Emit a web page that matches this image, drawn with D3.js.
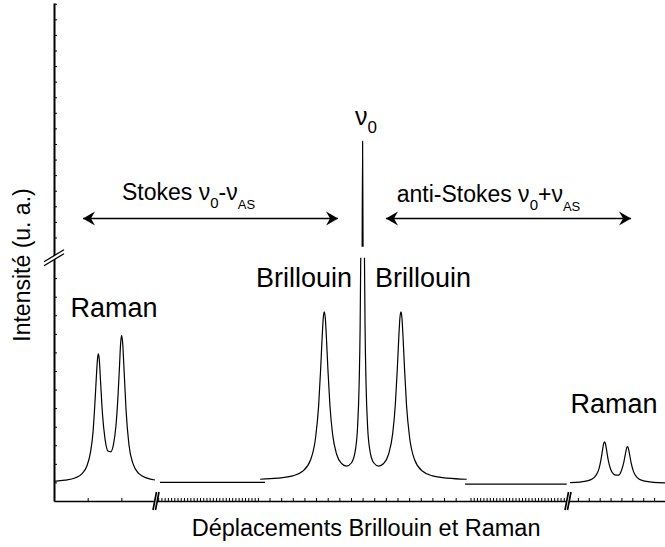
<!DOCTYPE html>
<html>
<head>
<meta charset="utf-8">
<script src="https://cdn.jsdelivr.net/npm/d3@7"></script>
<style>
  body { margin: 0; background: #fff; }
  svg { display: block; font-family: "Liberation Sans", Arial, sans-serif; }
</style>
</head>
<body>
<div class="chart"></div>
<script>
// spectre : [décalage (u. arb.), intensité (u. a.)]
const ramanStokes = [[-50,1.06],[-49.02,1.12],[-48.13,1.24],[-47.50,1.47],[-47.06,1.90],[-46.75,2.62],[-46.52,3.72],
  [-46.35,5.31],[-46.21,6.85],[-46.12,7.67],[-46.05,7.92],[-45.97,7.65],[-45.86,6.53],[-45.68,4.68],[-45.45,3.32],
  [-45.19,2.69],[-44.95,2.65],[-44.70,3.05],[-44.48,4.05],[-44.30,5.62],[-44.16,7.30],[-44.06,8.52],[-43.97,8.92],
  [-43.88,8.49],[-43.76,7.10],[-43.58,4.90],[-43.32,3.02],[-42.96,2.01],[-42.43,1.47],[-41.71,1.23],[-41.00,1.13]];

const fondStokes = [[-39.45,1.0],[-8.39,1.0]];

// null = coupure de l'axe des intensités
const brillouin = [[-8.81,1.17],[-7.31,1.23],[-6.02,1.35],[-5.16,1.60],[-4.47,2.22],[-4.04,3.42],[-3.78,5.12],
  [-3.61,7.05],[-3.48,8.78],[-3.38,9.87],[-3.30,10.19],[-3.21,9.88],[-3.11,8.79],[-2.98,7.07],[-2.81,5.16],
  [-2.58,3.60],[-2.24,2.53],[-1.81,2.02],[-1.38,1.88],[-0.95,2.06],[-0.60,2.82],[-0.43,4.01],[-0.30,6.23],
  [-0.21,9.48],[-0.16,13.1],[-0.1,null],[-0.04,21.4],[0,28.17],[0.04,21.4],[0.1,null],[0.16,13.1],[0.21,9.48],
  [0.30,6.23],[0.43,4.01],[0.60,2.82],[0.95,2.06],[1.38,1.88],[1.81,2.02],[2.24,2.53],[2.58,3.60],[2.81,5.16],
  [2.98,7.07],[3.11,8.79],[3.21,9.88],[3.30,10.19],[3.38,9.87],[3.48,8.78],[3.61,7.05],[3.78,5.12],[4.04,3.42],
  [4.47,2.22],[5.16,1.60],[6.02,1.35],[7.31,1.23],[8.95,1.17]];

const fondAntiStokes = [[8.80,0.91],[39.91,0.91]];

const ramanAntiStokes = [[40.28,0.99],[41.19,1.02],[41.84,1.08],[42.30,1.18],[42.66,1.38],[42.94,1.74],[43.12,2.23],
  [43.28,2.81],[43.37,3.10],[43.44,3.19],[43.52,3.11],[43.61,2.83],[43.77,2.26],[44.00,1.72],[44.27,1.45],
  [44.50,1.39],[44.73,1.39],[45.01,1.66],[45.23,2.12],[45.39,2.62],[45.48,2.86],[45.56,2.93],[45.63,2.85],
  [45.72,2.60],[45.88,2.08],[46.11,1.58],[46.43,1.27],[46.89,1.11],[47.62,1.03],[48.36,0.99],[49.00,0.98]];

const spectre = [ramanStokes, fondStokes, brillouin, fondAntiStokes, ramanAntiStokes];

// axes coupés
const xDomain = [-50, -41, -9, 9, 40, 49];
const yDomain = [0, 13.1, 20.7, 37.05];
const xBreaks = [-41, 40];
const yBreak = 13.1;
const xTicks = [-47, -44].concat(d3.range(-40, -8), d3.range(-8, 9), d3.range(10, 40), d3.range(41, 49));
const yTicks = d3.range(1, 13).concat(d3.range(22, 38));

const margin = ({top: 3, right: 0, bottom: 46, left: 54});
const width = 665 - margin.left - margin.right,
      height = 547 - margin.top - margin.bottom;

const svg = d3.select(".chart")
  .append("svg")
  .attr("width", width + margin.left + margin.right)
  .attr("height", height + margin.top + margin.bottom)
  .append("g")
  .attr("transform", `translate(${margin.left},${margin.top})`);

const x = d3.scaleLinear()
  .domain(xDomain)
  .range([0, 101, 203.9, 413.3, 513, width]);

const y = d3.scaleLinear()
  .domain(yDomain)
  .range([height, 254.7, 254.7, 0]);

const xAxis = d3.axisTop(x)
  .tickValues(xTicks)
  .tickSize(3)
  .tickSizeOuter(0)
  .tickFormat("");

const yAxis = d3.axisRight(y)
  .tickValues(yTicks)
  .tickSize(3)
  .tickSizeOuter(0)
  .tickFormat("");

svg.append("g")
  .attr("class", "axis x-axis")
  .attr("transform", `translate(0,${height})`)
  .call(xAxis)
  .call(g => g.select(".domain").attr("stroke-width", 1.7))
  .call(g => g.selectAll(".tick line").attr("stroke-width", 1));

svg.append("g")
  .attr("class", "axis y-axis")
  .call(yAxis)
  .call(g => g.select(".domain").attr("stroke-width", 2))
  .call(g => g.selectAll(".tick line").attr("stroke-width", 1));

const line = d3.line()
  .defined(d => d[1] !== null)
  .x(d => x(d[0]))
  .y(d => y(d[1]))
  .curve(d3.curveMonotoneX);

svg.selectAll(".spectre")
  .data(spectre)
  .join("path")
  .attr("class", "spectre")
  .attr("fill", "none")
  .attr("stroke", "black")
  .attr("stroke-width", 1.2)
  .attr("d", line);

// marques de coupure //
svg.selectAll(".cut-x")
  .data(xBreaks)
  .join("g")
  .attr("class", "cut-x")
  .attr("transform", d => `translate(${x(d) + 1},${height})`)
  .call(g => g.append("path").attr("d", "M-3,9L0.5,-9L3,-9L-0.5,9Z").attr("fill", "white"))
  .call(g => g.append("path")
    .attr("d", "M-3,9L0.5,-9M-0.5,9L3,-9")
    .attr("stroke", "black").attr("stroke-width", 1.7));

svg.append("g")
  .attr("transform", `translate(0,${y(yBreak)})`)
  .call(g => g.append("path").attr("d", "M-10,4L10,-8L10,-4L-10,8Z").attr("fill", "white"))
  .call(g => g.append("path")
    .attr("d", "M-10,4L10,-8M-10,8L10,-4")
    .attr("stroke", "black").attr("stroke-width", 1.3));

// flèches Stokes / anti-Stokes
svg.append("defs").append("marker")
  .attr("id", "tete")
  .attr("viewBox", "-14 -8 16 16")
  .attr("markerWidth", 16)
  .attr("markerHeight", 16)
  .attr("markerUnits", "userSpaceOnUse")
  .attr("refX", 0)
  .attr("refY", 0)
  .attr("orient", "auto-start-reverse")
  .append("path")
  .attr("d", "M0,0L-12,-7L-8,0L-12,7Z")
  .attr("fill", "black");

const arrowY = 215.5;
[[-47.42, -2.11], [2.01, 45.88]].forEach(([a, b]) => {
  svg.append("line")
    .attr("x1", x(a)).attr("x2", x(b))
    .attr("y1", arrowY).attr("y2", arrowY)
    .attr("stroke", "black")
    .attr("stroke-width", 1.5)
    .attr("marker-start", "url(#tete)")
    .attr("marker-end", "url(#tete)");
});

function label(txt, u, yy, anchor) {
  return svg.append("text")
    .attr("x", x(u))
    .attr("y", yy)
    .attr("text-anchor", anchor)
    .attr("font-size", 27)
    .attr("fill", "black")
    .text(txt);
}

label("Raman", -44.65, 314, "middle");
label("Raman", 44.32, 410, "middle");
label("Brillouin", -0.9, 284, "end");
label("Brillouin", 1.07, 284, "start");

const nu0 = svg.append("text")
  .attr("x", x(-0.65))
  .attr("y", 122)
  .attr("font-size", 25);
nu0.append("tspan").text("ν");
nu0.append("tspan").attr("dy", 8).attr("font-size", 17).text("0");

function shiftLabel(prefix, sign, u, yy) {
  const t = svg.append("text")
    .attr("x", x(u))
    .attr("y", yy)
    .attr("font-size", 23);
  t.append("tspan").text(prefix + " ν");
  t.append("tspan").attr("dy", 8).attr("font-size", 15).text("0");
  t.append("tspan").attr("dy", -8).text(sign + "ν");
  t.append("tspan").attr("dy", 9).attr("font-size", 13).text("AS");
  return t;
}

shiftLabel("Stokes", "-", -43.94, 197);
shiftLabel("anti-Stokes", "+", 2.93, 198.7);

// titres des axes
svg.append("text")
  .attr("x", x(0.3))
  .attr("y", height + 35)
  .attr("text-anchor", "middle")
  .attr("font-size", 23.5)
  .text("Déplacements Brillouin et Raman");

svg.append("text")
  .attr("transform", `translate(-24,262) rotate(-90)`)
  .attr("text-anchor", "middle")
  .attr("font-size", 23)
  .text("Intensité (u. a.)");
</script>
</body>
</html>
